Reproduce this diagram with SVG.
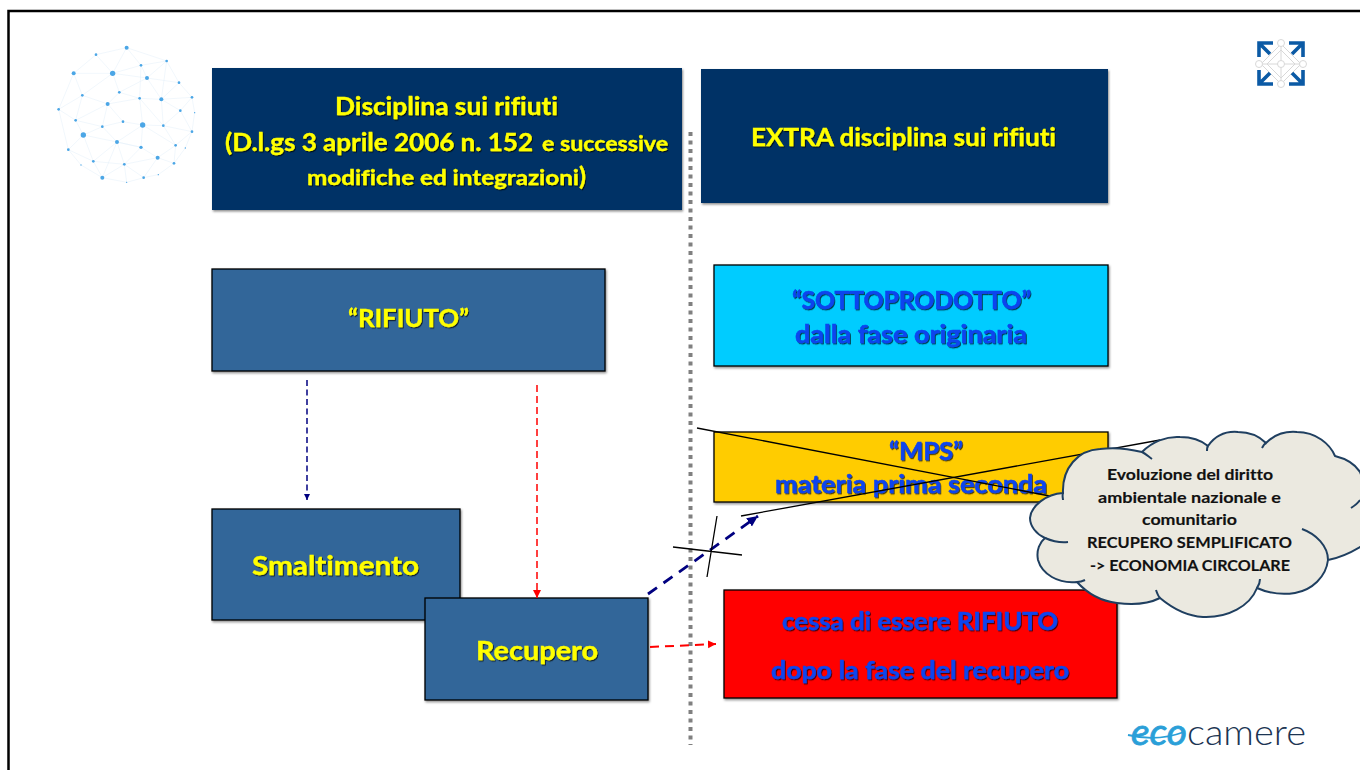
<svg xmlns="http://www.w3.org/2000/svg" width="1360" height="770" viewBox="0 0 1360 770">
<defs>
<filter id="ts" x="-5%" y="-20%" width="110%" height="140%"><feDropShadow dx="1" dy="1.200" stdDeviation="0.600" flood-color="#000" flood-opacity="0.700"/></filter>
<filter id="bs" x="-3%" y="-5%" width="106%" height="110%"><feDropShadow dx="1" dy="1.500" stdDeviation="0.800" flood-color="#000" flood-opacity="0.450"/></filter>
<marker id="an" markerWidth="8" markerHeight="8" refX="6" refY="3" orient="auto" markerUnits="userSpaceOnUse"><path d="M0,0L6,3L0,6Z" fill="#000080"/></marker>
<marker id="anb" markerWidth="14" markerHeight="12" refX="11" refY="5" orient="auto" markerUnits="userSpaceOnUse"><path d="M0,0L11,5L0,10Z" fill="#000080"/></marker>
<marker id="ar" markerWidth="10" markerHeight="10" refX="8" refY="4" orient="auto" markerUnits="userSpaceOnUse"><path d="M0,0L8,4L0,8Z" fill="#f00"/></marker>
</defs>
<style>
text{font-family:"Lato","Carlito","Liberation Sans",sans-serif;font-weight:700;font-variant-ligatures:none}
.y{fill:#ffff00;stroke:#ffff00;stroke-width:0.350;filter:url(#ts)}
.b{fill:#0a44ee;stroke:#0a44ee;stroke-width:0.500;filter:url(#ts)}
.k{fill:#111;stroke:#111;stroke-width:0.150;font-size:16px}
.box{stroke:#000;stroke-width:1.300;filter:url(#bs)}
.x{stroke:#000;stroke-width:1.300;fill:none}
.cl{fill:#ebe9e0;stroke:#1f3f60;stroke-width:2}
.ci{fill:none;stroke:#1f3f60;stroke-width:2}
</style>
<rect width="1360" height="770" fill="#fff"/>
<path d="M8.500 770V11H1360" fill="none" stroke="#000" stroke-width="2.500"/>

<g id="sphere" transform="scale(0.3333)">
<path fill="none" stroke="#e2eff9" stroke-width="1.500" d="M380 143L288 164L221 220L176 328L205 449L243 495L307 533L380 547L431 533L475 524L522 490L556 444L576 395L584 338L576 292L537 248L500 183L380 143M380 143L338 220L288 164M380 143L423 196L338 220L221 220M338 220L441 234L423 196L500 183L441 234L537 248L484 298L441 234L358 277L338 220L247 286L221 220M247 286L323 312L358 277L419 295L484 298L576 292L541 332L484 298L490 377L428 375L419 295L323 312L307 380L227 361L247 286M176 328L247 286M176 328L227 361L250 405L205 449M250 405L307 380L369 365L428 375L351 426L307 380M369 365L323 312L227 361M250 405L351 426L423 442L428 375L527 436L490 377L541 332L576 395L527 436L473 473L423 442L351 426L280 484L250 405M205 449L280 484L373 493L473 473L522 490L527 436M351 426L373 493L423 442M280 484L307 533L373 493L431 533L473 473M373 493L380 547M490 377L576 395M419 295L423 196M500 183L484 298M307 533L351 426M419 295L490 377"/>
<g fill="#4ba6e6">
<circle cx="380" cy="143" r="6"/><circle cx="288" cy="164" r="4"/><circle cx="500" cy="183" r="4"/><circle cx="221" cy="220" r="6"/><circle cx="338" cy="220" r="8"/><circle cx="423" cy="196" r="4"/><circle cx="441" cy="234" r="6"/><circle cx="537" cy="248" r="4"/><circle cx="247" cy="286" r="4"/><circle cx="358" cy="277" r="4"/><circle cx="419" cy="295" r="4"/><circle cx="484" cy="298" r="6"/><circle cx="576" cy="292" r="4"/><circle cx="176" cy="328" r="4"/><circle cx="323" cy="312" r="6"/><circle cx="541" cy="332" r="4"/><circle cx="227" cy="361" r="4"/><circle cx="369" cy="365" r="4"/><circle cx="307" cy="380" r="4"/><circle cx="428" cy="375" r="8"/><circle cx="490" cy="377" r="4"/><circle cx="576" cy="395" r="4"/><circle cx="250" cy="405" r="8"/><circle cx="351" cy="426" r="6"/><circle cx="423" cy="442" r="5"/><circle cx="527" cy="436" r="4"/><circle cx="205" cy="449" r="4"/><circle cx="473" cy="473" r="6"/><circle cx="280" cy="484" r="4"/><circle cx="373" cy="493" r="4"/><circle cx="522" cy="490" r="4"/><circle cx="243" cy="495" r="2"/><circle cx="307" cy="533" r="6"/><circle cx="431" cy="533" r="4"/><circle cx="475" cy="524" r="2"/><circle cx="380" cy="547" r="2"/><circle cx="556" cy="444" r="2"/><circle cx="584" cy="338" r="2"/>
</g>
</g>

<g id="icon">
<path d="M1281 44L1301 64L1281 84L1261 64Z M1281 50L1295 64L1281 78L1267 64Z M1281 44V84M1261 64H1301" fill="none" stroke="#d8d8d8" stroke-width="1"/>
<g fill="#fff" stroke="#d8d8d8"><circle cx="1281" cy="43" r="3.500"/><circle cx="1281" cy="84" r="3.500"/><circle cx="1259" cy="64" r="3.500"/><circle cx="1303" cy="64" r="3.500"/><circle cx="1281" cy="64" r="3.500"/></g>
<g fill="none" stroke="#0b5aa5" stroke-width="3.600">
<path d="M1259 57V43H1273M1260 44L1270 54"/>
<path d="M1303 57V43H1289M1302 44L1292 54"/>
<path d="M1259 70V84H1273M1260 83L1270 73"/>
<path d="M1303 70V84H1289M1302 83L1292 73"/>
</g>
</g>

<g id="logo">
<path d="M1128 735C1145 739 1165 739 1184 732" fill="none" stroke="#2a9fd8" stroke-width="1.800"/>
<text x="1131" y="745" font-size="37" textLength="56" lengthAdjust="spacingAndGlyphs" style="font-style:italic;font-weight:400;fill:#2a9fd8;stroke:#2a9fd8;stroke-width:0.800">eco</text>
<text x="1187" y="745" font-size="36" textLength="119" lengthAdjust="spacingAndGlyphs" style="font-weight:300;fill:#1c3553">camere</text>
</g>

<g id="divider"><path d="M690.500 132V745" stroke="#808080" stroke-width="4" stroke-dasharray="4 4.500" fill="none"/></g>

<g id="node-disciplina">
<rect x="212" y="68" width="470" height="142" fill="#003366" filter="url(#bs)"/>
<text class="y" x="335" y="115" font-size="24" textLength="223" lengthAdjust="spacingAndGlyphs">Disciplina sui rifiuti</text>
<text class="y" x="225" y="151" font-size="24" textLength="308" lengthAdjust="spacingAndGlyphs">(D.l.gs 3 aprile 2006 n. 152</text>
<text class="y" x="542" y="151" font-size="21" textLength="126" lengthAdjust="spacingAndGlyphs">e successive</text>
<text class="y" x="307" y="185" font-size="21" textLength="272" lengthAdjust="spacingAndGlyphs">modifiche ed integrazioni</text>
<text class="y" x="579" y="185" font-size="24" textLength="7" lengthAdjust="spacingAndGlyphs">)</text>
</g>
<g id="node-extra">
<rect x="701" y="69" width="407" height="134" fill="#003366" filter="url(#bs)"/>
<text class="y" x="751" y="146" font-size="24" textLength="305" lengthAdjust="spacingAndGlyphs">EXTRA disciplina sui rifiuti</text>
</g>
<g id="node-rifiuto">
<rect class="box" x="212" y="269" width="393" height="102" fill="#336699"/>
<text class="y" x="348" y="327" font-size="25" textLength="121" lengthAdjust="spacingAndGlyphs">“RIFIUTO”</text>
</g>
<g id="node-sottoprodotto">
<rect class="box" x="714" y="265" width="394" height="101" fill="#00ccff"/>
<text class="b" x="792" y="309" font-size="25" textLength="239" lengthAdjust="spacingAndGlyphs">“SOTTOPRODOTTO”</text>
<text class="b" x="795" y="343" font-size="25" textLength="232" lengthAdjust="spacingAndGlyphs">dalla fase originaria</text>
</g>
<g id="node-mps">
<rect class="box" x="714" y="432" width="394" height="70" fill="#ffcc00"/>
<text class="b" x="889" y="460" font-size="25" textLength="74" lengthAdjust="spacingAndGlyphs">“MPS”</text>
<text class="b" x="775" y="493" font-size="25" textLength="272" lengthAdjust="spacingAndGlyphs">materia prima seconda</text>
</g>
<g id="node-cessa">
<rect class="box" x="724" y="590" width="393" height="108" fill="#ff0000"/>
<text class="b" x="782" y="630" font-size="25" textLength="276" lengthAdjust="spacingAndGlyphs">cessa di essere RIFIUTO</text>
<text class="b" x="771" y="679" font-size="25" textLength="298" lengthAdjust="spacingAndGlyphs">dopo la fase del recupero</text>
</g>
<g id="node-smaltimento">
<rect class="box" x="212" y="509" width="248" height="111" fill="#336699"/>
<text class="y" x="252" y="575" font-size="27" textLength="167" lengthAdjust="spacingAndGlyphs">Smaltimento</text>
</g>
<g id="node-recupero">
<rect class="box" x="425" y="598" width="223" height="102" fill="#336699"/>
<text class="y" x="476" y="660" font-size="27" textLength="122" lengthAdjust="spacingAndGlyphs">Recupero</text>
</g>

<g id="connectors" fill="none">
<path d="M307 380V500" stroke="#000080" stroke-width="1.500" stroke-dasharray="6 3.500" marker-end="url(#an)"/>
<path d="M537 385V598" stroke="#f00" stroke-width="1.500" stroke-dasharray="7 4" marker-end="url(#ar)"/>
<path d="M648 594L758 516" stroke="#000080" stroke-width="2.800" stroke-dasharray="11 8" marker-end="url(#anb)"/>
<path d="M650 647L716 644" stroke="#f00" stroke-width="2" stroke-dasharray="9 6" marker-end="url(#ar)"/>
<path class="x" d="M697 428L1060 498"/>
<path class="x" d="M741 516L1160 440"/>
<path class="x" d="M673 547L742 555M717 516L707 577"/>
</g>

<g id="node-cloud">
<path class="cl" d="M1063 493C1062 468 1078 450 1100 449C1115 447 1130 449 1142 452C1152 442 1166 436 1180 437C1192 437 1202 441 1208 446C1215 436 1226 431 1238 432C1250 432 1260 437 1266 443C1274 435 1285 431 1297 432C1316 432 1330 444 1335 456C1347 459 1355 464 1360 472L1375 510L1375 540L1360 547C1350 553 1338 558 1328 560C1326 577 1312 590 1295 593C1282 595 1268 593 1257 588C1250 606 1228 618 1203 617C1186 616 1172 608 1160 598C1148 604 1132 605 1117 603C1100 601 1086 592 1077 582C1058 584 1042 574 1038 560C1036 550 1040 542 1045 538C1036 534 1030 526 1030 518C1031 506 1046 494 1063 493Z"/>
<path class="ci" d="M1142 452C1146 454 1149 457 1152 459M1208 446C1207 447 1207 449 1207 451M1266 443C1264 444 1263 446 1262 448M1063 493C1062 496 1063 498 1063 500M1045 538C1052 541 1060 543 1068 542M1077 582C1080 582 1083 581 1085 580M1160 598C1158 596 1157 593 1156 590M1257 588C1259 585 1260 582 1260 579M1302 529C1316 534 1328 546 1328 560M1351 508C1354 506 1358 503 1360 500"/>
<text class="k" x="1107" y="480" textLength="166" lengthAdjust="spacingAndGlyphs">Evoluzione del diritto</text>
<text class="k" x="1098" y="503" textLength="183" lengthAdjust="spacingAndGlyphs">ambientale nazionale e</text>
<text class="k" x="1142" y="525" textLength="95" lengthAdjust="spacingAndGlyphs">comunitario</text>
<text class="k" x="1087" y="548" textLength="205" lengthAdjust="spacingAndGlyphs">RECUPERO SEMPLIFICATO</text>
<text class="k" x="1090" y="571" textLength="200" lengthAdjust="spacingAndGlyphs">-&gt; ECONOMIA CIRCOLARE</text>
</g>
</svg>
